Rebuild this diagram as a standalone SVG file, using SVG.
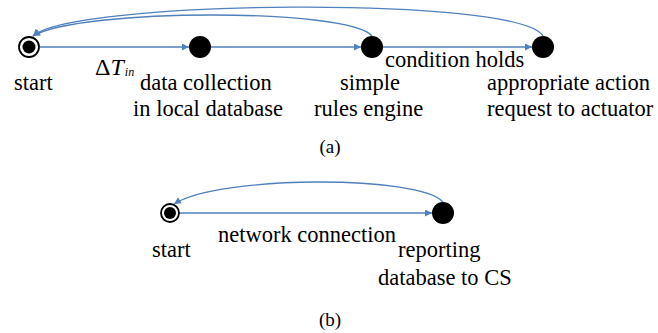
<svg xmlns="http://www.w3.org/2000/svg" width="658" height="333" viewBox="0 0 658 333">
<style>
.lbl{font-family:'Liberation Serif','Times New Roman',serif;font-size:22.5px;fill:#000}
.cap{font-family:'Liberation Serif','Times New Roman',serif;font-size:19px;fill:#000}
.edge{fill:none;stroke:#4f81bd;stroke-width:1.3}
.node{fill:#000}
.ring{fill:#fff;stroke:#000;stroke-width:1.8}
</style>
<defs>
<marker id="arr" viewBox="0 0 10 10" refX="10" refY="5" markerWidth="8" markerHeight="7" markerUnits="userSpaceOnUse" orient="auto">
<path d="M0,0 L10,5 L0,10 z" fill="#4f81bd"/>
</marker>
</defs>
<rect width="658" height="333" fill="#fff"/>
<g id="connectors">
<path class="edge" d="M40,47 L189,47" marker-end="url(#arr)"/>
<path class="edge" d="M211,47 L361,47" marker-end="url(#arr)"/>
<path class="edge" d="M383,47 L532,47" marker-end="url(#arr)"/>
<path class="edge" d="M372,36 C350,8 80,8 33,36" marker-end="url(#arr)"/>
<path class="edge" d="M543,36 C520,-5 70,0 33,36" marker-end="url(#arr)"/>
<path class="edge" d="M179,213 L432,213" marker-end="url(#arr)"/>
<path class="edge" d="M443,202 C420,175 220,175 174,204" marker-end="url(#arr)"/>
</g>
<g id="a-start">
<circle class="ring" cx="29" cy="47" r="10"/>
<circle class="node" cx="29" cy="47" r="6.5"/>
<text class="lbl" x="14" y="90">start</text>
</g>
<g id="a-data">
<circle class="node" cx="200" cy="47" r="11"/>
<text class="lbl" x="140" y="90">data collection</text>
<text class="lbl" x="133" y="116">in local database</text>
</g>
<g id="a-rules">
<circle class="node" cx="372" cy="47" r="11"/>
<text class="lbl" x="340" y="90">simple</text>
<text class="lbl" x="314" y="116">rules engine</text>
</g>
<g id="a-action">
<circle class="node" cx="543" cy="47" r="11"/>
<text class="lbl" x="487" y="90">appropriate action</text>
<text class="lbl" x="487" y="116">request to actuator</text>
</g>
<g id="a-labels">
<text x="95" y="75" font-family="Liberation Serif, serif" font-size="24">Δ<tspan font-style="italic">T</tspan><tspan font-size="12" font-style="italic" dx="1" dy="1">in</tspan></text>
<text class="lbl" x="385" y="67">condition holds</text>
<text class="cap" x="330" y="153" text-anchor="middle">(a)</text>
</g>
<g id="b-start">
<circle class="ring" cx="170" cy="213" r="9"/>
<circle class="node" cx="170" cy="213" r="6"/>
<text class="lbl" x="152" y="257">start</text>
</g>
<g id="b-report">
<circle class="node" cx="443" cy="213" r="11"/>
<text class="lbl" x="398" y="257">reporting</text>
<text class="lbl" x="378" y="285">database to CS</text>
</g>
<g id="b-labels">
<text class="lbl" x="218" y="242">network connection</text>
<text class="cap" x="330" y="326" text-anchor="middle">(b)</text>
</g>
</svg>
